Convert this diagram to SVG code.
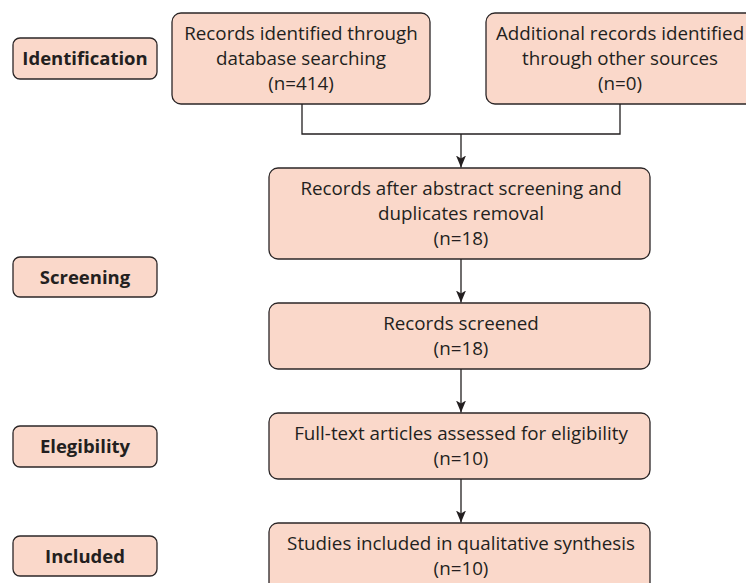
<svg xmlns="http://www.w3.org/2000/svg" width="746" height="583" viewBox="0 0 746 583">
<style>
.box{fill:#FAD8CA;stroke:#2b2627;stroke-width:1.3}
.t{font-family:"Open Sans","Liberation Sans",sans-serif;font-size:18.8px;fill:#231F20;text-anchor:middle}
.lb{font-family:"Open Sans","Liberation Sans",sans-serif;font-size:18.5px;font-weight:700;fill:#231F20;text-anchor:middle}
.c{fill:none;stroke:#231F20;stroke-width:1.3}
</style>
<defs>
<marker id="ah" markerUnits="userSpaceOnUse" markerWidth="12" markerHeight="10" refX="12" refY="5" orient="auto" viewBox="0 0 12 10">
<path d="M0,0 L12,5 L0,10 L3,5 Z" fill="#231F20"/>
</marker>
</defs>
<g id="lbl-identification"><rect class="box" x="13" y="38" width="144" height="41" rx="7"/><text class="lb" x="85" y="65">Identification</text></g>
<g id="lbl-screening"><rect class="box" x="13" y="257" width="144" height="40" rx="7"/><text class="lb" x="85" y="284">Screening</text></g>
<g id="lbl-elegibility"><rect class="box" x="13" y="426" width="144" height="41" rx="7"/><text class="lb" x="85" y="453">Elegibility</text></g>
<g id="lbl-included"><rect class="box" x="13" y="536" width="144" height="40" rx="7"/><text class="lb" x="85" y="563">Included</text></g>
<g id="n-db"><rect class="box" x="172" y="13" width="258" height="91" rx="9"/><text class="t" x="301" y="40">Records identified through</text><text class="t" x="301" y="65">database searching</text><text class="t" x="301" y="90">(n=414)</text></g>
<g id="n-other"><rect class="box" x="486" y="13" width="270" height="91" rx="9"/><text class="t" x="620" y="40">Additional records identified</text><text class="t" x="620" y="65">through other sources</text><text class="t" x="620" y="90">(n=0)</text></g>
<g id="n-after"><rect class="box" x="269" y="168" width="381" height="91" rx="9"/><text class="t" x="461" y="195">Records after abstract screening and</text><text class="t" x="461" y="220">duplicates removal</text><text class="t" x="461" y="245">(n=18)</text></g>
<g id="n-screened"><rect class="box" x="269" y="303" width="381" height="66" rx="9"/><text class="t" x="461" y="330">Records screened</text><text class="t" x="461" y="355">(n=18)</text></g>
<g id="n-full"><rect class="box" x="269" y="413" width="381" height="66" rx="9"/><text class="t" x="461" y="440">Full-text articles assessed for eligibility</text><text class="t" x="461" y="465">(n=10)</text></g>
<g id="n-included"><rect class="box" x="269" y="523" width="381" height="70" rx="9"/><text class="t" x="461" y="550">Studies included in qualitative synthesis</text><text class="t" x="461" y="575">(n=10)</text></g>
<g id="connectors">
<path class="c" d="M302,104 V134 H620 V104"/>
<path class="c" d="M461,134 V167.5" marker-end="url(#ah)"/>
<path class="c" d="M461,259 V302.5" marker-end="url(#ah)"/>
<path class="c" d="M461,369 V412.5" marker-end="url(#ah)"/>
<path class="c" d="M461,479 V522.5" marker-end="url(#ah)"/>
</g>
</svg>
